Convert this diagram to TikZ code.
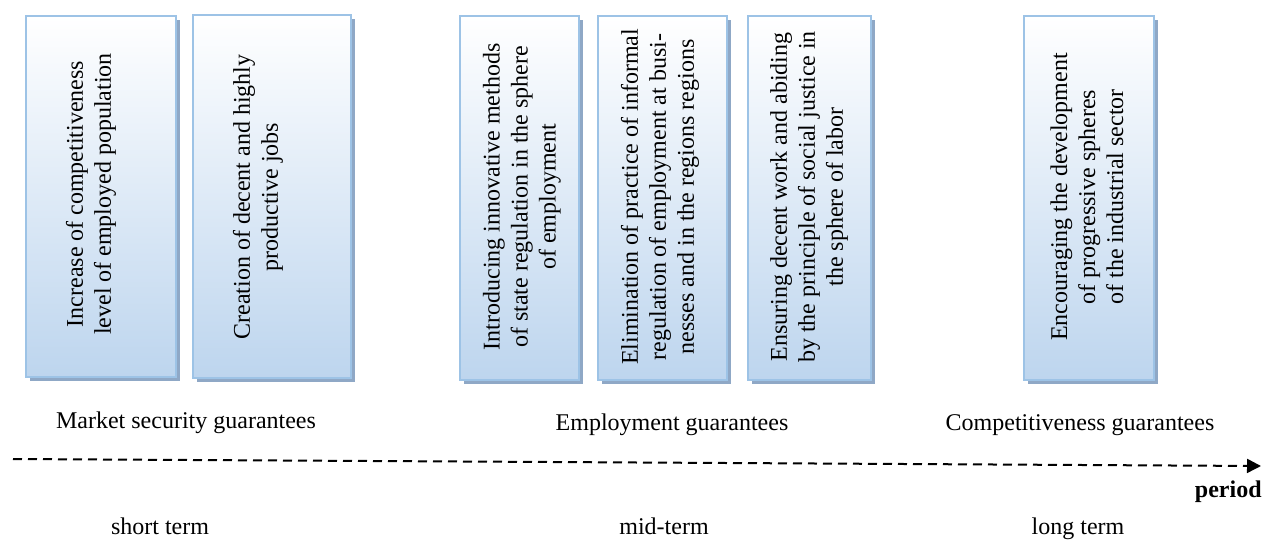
\documentclass[tikz,border=0pt]{standalone}
\usepackage{fontspec}
\setmainfont{Liberation Serif}
\usetikzlibrary{arrows.meta, positioning, shadows}
\definecolor{boxline}{HTML}{9DC3E6}
\definecolor{boxfill}{HTML}{BDD5EE}
\definecolor{boxshadow}{HTML}{8FA8C6}
\begin{document}
\begin{tikzpicture}[x=0.5pt, y=-0.5pt,
    gbox/.style={draw=boxline, line width=1.2pt, top color=white, bottom color=boxfill,
        inner sep=0pt, drop shadow={shadow xshift=2.2pt, shadow yshift=-2.2pt, fill=boxshadow, opacity=1}},
    boxtext/.style={rotate=90, align=center, font=\fontsize{12pt}{14pt}\selectfont, inner sep=0pt},
    lbl/.style={font=\fontsize{12pt}{14pt}\selectfont, anchor=base, inner sep=0pt}]
    \useasboundingbox (0,0) rectangle (1263,540);

    % Boxes with gradient and shadow
    \node[gbox, minimum width=75pt, minimum height=180.5pt] (b1) at (101,196.5) {};
    \node[gbox, minimum width=79pt, minimum height=181.5pt] (b2) at (272,196.5) {};
    \node[gbox, minimum width=59.5pt, minimum height=182pt] (b3) at (519.5,198) {};
    \node[gbox, minimum width=64.5pt, minimum height=182pt] (b4) at (662.5,198) {};
    \node[gbox, minimum width=61.5pt, minimum height=182pt] (b5) at (809.5,198) {};
    \node[gbox, minimum width=65pt, minimum height=182pt] (b6) at (1089,198) {};

    % Rotated texts inside the boxes
    \node[boxtext] (t1) at (91,194) {Increase of competitiveness\\level of employed population};
    \node[boxtext] (t2) at (258,197) {Creation of decent and highly\\productive jobs};
    \node[boxtext] (t3) at (522,197) {Introducing innovative methods\\of state regulation in the sphere\\of employment};
    \node[boxtext] (t4) at (660,197) {Elimination of practice of informal\\regulation of employment at busi-\\nesses and in the regions regions};
    \node[boxtext] (t5) at (809,197) {Ensuring decent work and abiding\\by the principle of social justice in\\the sphere of labor};
    \node[boxtext] (t6) at (1087,197) {Encouraging the development\\of progressive spheres\\of the industrial sector};

    % Group labels
    \node[lbl] (g1) at (186,428) {Market security guarantees};
    \node[lbl] (g2) at (672,430) {Employment guarantees};
    \node[lbl] (g3) at (1080,430) {Competitiveness guarantees};

    % Time axis
    \coordinate (axstart) at (13,459);
    \coordinate (axend) at (1261,466);
    \draw[line width=1pt, dash pattern=on 4.5pt off 3pt, -{Triangle[length=7pt, width=7pt]}] (axstart) -- (axend);
    \node[lbl, anchor=base east, font=\fontsize{12pt}{14pt}\selectfont\bfseries] (per) at (1262,497) {period};

    % Terms
    \node[lbl] (s1) at (160,534) {short term};
    \node[lbl] (s2) at (664,534) {mid-term};
    \node[lbl] (s3) at (1078,534) {long term};
\end{tikzpicture}
\end{document}
